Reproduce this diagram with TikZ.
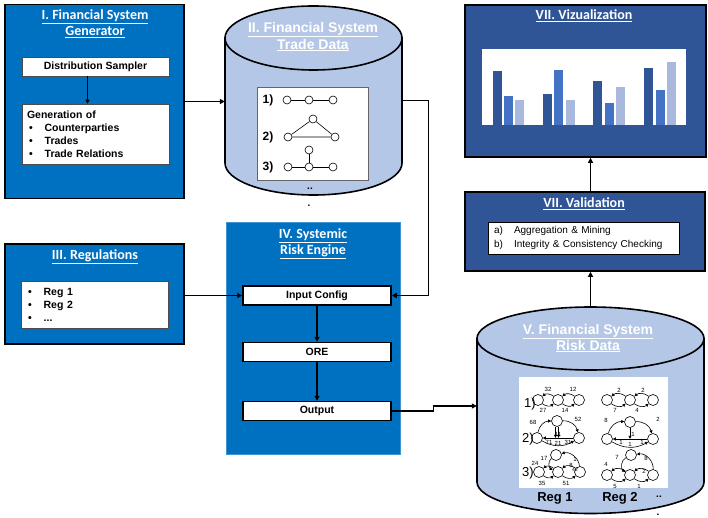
\documentclass[tikz,border=0pt]{standalone}
\usepackage{fontspec}
\setmainfont{Liberation Sans}
\newfontfamily\calfont{Carlito}
\usetikzlibrary{arrows.meta,positioning}

\definecolor{sysblue}{RGB}{0,112,192}
\definecolor{darkblue}{RGB}{47,85,151}
\definecolor{cylblue}{RGB}{180,199,231}
\definecolor{midblue}{RGB}{68,114,196}
\definecolor{paleblue}{RGB}{169,185,222}

\begin{document}
\begin{tikzpicture}[x=1pt,y=-1pt,
  blockbox/.style={draw=black,line width=1.6pt,inner sep=0pt},
  whitebox/.style={draw=black!70,fill=white,line width=0.6pt,inner sep=0pt,font=\bfseries\fontsize{10.5}{13}\selectfont},
  stepbox/.style={draw=black,fill=white,line width=1.5pt,minimum width=148pt,minimum height=19pt,inner sep=0pt,font=\bfseries\fontsize{10.5}{12}\selectfont},
  boxtitle/.style={text=white,align=center,inner sep=0pt,font=\calfont\bfseries\fontsize{14}{16}\selectfont},
  cyltitle/.style={text=white,align=center,inner sep=0pt,font=\bfseries\fontsize{14}{17}\selectfont},
  cyl/.style={draw=black,line width=1.6pt,fill=cylblue},
  link/.style={line width=1.3pt,-{Triangle[length=5pt,width=5pt]}},
  dot/.style={circle,draw=black,fill=white,line width=0.6pt,minimum size=8pt,inner sep=0pt},
  minidot/.style={circle,draw=black,line width=0.6pt,minimum size=11pt,inner sep=0pt},
  miniarc/.style={line width=0.6pt,-{Triangle[length=3pt,width=3pt]}},
  minilbl/.style={inner sep=0pt,font=\fontsize{6}{6}\selectfont},
  moredots/.style={anchor=base,inner sep=0pt,font=\bfseries\fontsize{10}{10}\selectfont},
  rownum/.style={inner sep=0pt,font=\bfseries\fontsize{12}{12}\selectfont}]
\useasboundingbox (0,0) rectangle (708,518);
%\draw[step=10,gray,very thin] (0,0) grid (708,518); %background grid

%---------------------------------------------------
\node[blockbox,fill=sysblue,minimum width=179pt,minimum height=194pt] (gen) at (94.5,101.5) {};
\node[boxtitle] (gentitle) at (95,24) {\underline{I. Financial System}\\\underline{Generator}};
\node[whitebox,minimum width=147pt,minimum height=19pt] (sampler) at (95.5,66.5) {Distribution Sampler};
\node[whitebox,minimum width=147pt,minimum height=60pt,text width=137pt,align=left] (genof) at (95.5,134)
  {Generation of\\
   \hspace*{2pt}\textbullet\hspace{12pt}Counterparties\\
   \hspace*{2pt}\textbullet\hspace{12pt}Trades\\
   \hspace*{2pt}\textbullet\hspace{12pt}Trade Relations};
\draw[line width=0.6pt,-{Triangle[length=4pt,width=4pt]}] ([xshift=-8pt]sampler.south) -- ([xshift=-8pt]genof.north);

%---------------------------------------------------
\node[blockbox,fill=sysblue,minimum width=179pt,minimum height=100pt] (regs) at (94.5,294) {};
\node[boxtitle] (regstitle) at (95,257) {\underline{III. Regulations}};
\node[whitebox,minimum width=147pt,minimum height=47pt,text width=137pt,align=left] (reglist) at (94.5,304.5)
  {\hspace*{2pt}\textbullet\hspace{12pt}Reg 1\\
   \hspace*{2pt}\textbullet\hspace{12pt}Reg 2\\
   \hspace*{2pt}\textbullet\hspace{12pt}...};

%---------------------------------------------------
\node[fill=sysblue,draw=sysblue!75!white,line width=1pt,minimum width=174pt,minimum height=231pt] (engine) at (313,338.5) {};
\node[boxtitle] (enginetitle) at (313,244) {\underline{IV. Systemic}\\\underline{Risk Engine}};
\node[stepbox] (input) at (317,295.5) {Input Config};
\node[stepbox] (ore) at (317,352) {ORE};
\node[stepbox] (output) at (317,411) {Output};
\draw[link] (input) -- (ore);
\draw[link] (ore) -- (output);

%---------------------------------------------------
\draw[cyl] (225,38) -- (225,163) arc[start angle=180,end angle=0,x radius=88.5,y radius=32] -- (402,38) -- cycle;
\draw[cyl] (313.5,38) ellipse[x radius=88.5,y radius=32];
\node[minimum width=177pt,minimum height=189pt,inner sep=0pt] (trade) at (313.5,100.5) {};
\node[cyltitle] (tradetitle) at (313,36.5) {\underline{II. Financial System}\\\underline{Trade Data}};
\node[draw=black!60,fill=white,line width=0.6pt,minimum width=111pt,minimum height=93pt] (tradelist) at (312.5,133.5) {};
\node[rownum] (t1) at (268,100) {1)};
\node[rownum] (t2) at (268,137) {2)};
\node[rownum] (t3) at (268,167) {3)};
\node[dot] (t1a) at (287,100) {};
\node[dot] (t1b) at (309,100) {};
\node[dot] (t1c) at (333,100) {};
\draw[line width=0.6pt] (t1a) -- (t1b) -- (t1c);
\node[dot] (t2a) at (288,137) {};
\node[dot] (t2b) at (313,119) {};
\node[dot] (t2c) at (335,137) {};
\draw[line width=0.6pt] (t2a) -- (t2b) -- (t2c) -- (t2a);
\node[dot] (t3a) at (288,167) {};
\node[dot] (t3b) at (309,167) {};
\node[dot] (t3c) at (333,167) {};
\node[dot] (t3d) at (309,150) {};
\draw[line width=0.6pt] (t3a) -- (t3b) -- (t3c);
\draw[line width=0.6pt] (t3d) -- (t3b);
\node[moredots] (tmore) at (310,190) {..};
\node[moredots] (tmore2) at (309,207) {.};

%---------------------------------------------------
\draw[cyl] (477,338.5) -- (477,482) arc[start angle=180,end angle=0,x radius=113.5,y radius=31.5] -- (704,338.5) -- cycle;
\draw[cyl] (590.5,338.5) ellipse[x radius=113.5,y radius=31.5];
\node[minimum width=227pt,minimum height=206pt,inner sep=0pt] (risk) at (590.5,410) {};
\node[cyltitle,font=\bfseries\fontsize{14}{16}\selectfont] (risktitle) at (588,338) {\underline{V. Financial System}\\\underline{Risk Data}};
\node[fill=white,minimum width=149pt,minimum height=111pt,inner sep=0pt] (riskgrid) at (593.5,432.5) {};
\node[inner sep=0pt,font=\bfseries\fontsize{13}{13}\selectfont] (reg1) at (555,498) {Reg 1};
\node[inner sep=0pt,font=\bfseries\fontsize{13}{13}\selectfont] (reg2) at (620,498) {Reg 2};
\node[moredots] (rmore) at (659,497) {..};
\node[moredots] (rmore2) at (658,515) {.};

% Reg 1 ----------------------------------------------
\node[rownum,font=\fontsize{13}{13}\selectfont] (r1) at (530,404) {1)};
\node[rownum,font=\fontsize{13}{13}\selectfont] (r2) at (528,439) {2)};
\node[rownum,font=\fontsize{13}{13}\selectfont] (r3) at (528,473) {3)};
\node[minidot] (p1a) at (538,400) {};
\node[minidot] (p1b) at (558,400) {};
\node[minidot] (p1c) at (579,400) {};
\draw[miniarc] (p1b) to[bend right=40] (p1a);
\draw[miniarc] (p1a) to[bend right=40] (p1b);
\draw[miniarc] (p1c) to[bend right=40] (p1b);
\draw[miniarc] (p1b) to[bend right=40] (p1c);
\node[minilbl] (l32) at (548,389) {32};
\node[minilbl] (l12) at (573,389) {12};
\node[minilbl] (l27) at (543,410) {27};
\node[minilbl] (l14) at (565,410) {14};

\node[minidot] (p2t) at (557,421) {};
\node[minidot] (p2l) at (537,438) {};
\node[minidot] (p2r) at (579,438) {};
\draw[miniarc] (p2l) to[bend left=40] (p2t);
\draw[miniarc] (p2t) to[bend left=40] (p2r);
\draw[miniarc] (p2r) -- (p2l);
\draw[miniarc] (p2l) to[bend right=30] (p2r);
\draw[miniarc] ([xshift=-1.5pt]p2t.south) -- ++(0,11);
\draw[miniarc] ([xshift=1.5pt]p2t.south) -- ++(0,11);
\node[minilbl] (l68) at (533,422) {68};
\node[minilbl] (l52) at (578,419) {52};
\node[minilbl] (l71) at (549,442) {71};
\node[minilbl] (l11) at (558,434) {11};
\node[minilbl] (l21) at (558,443) {21};
\node[minilbl] (l31) at (568,442) {31};

\node[minidot] (p3t) at (556,455) {};
\node[minidot] (p3a) at (539,472) {};
\node[minidot] (p3b) at (558,472) {};
\node[minidot] (p3c) at (580,472) {};
\draw[miniarc] (p3b) to[bend right=40] (p3a);
\draw[miniarc] (p3a) to[bend right=40] (p3b);
\draw[miniarc] (p3c) to[bend right=40] (p3b);
\draw[miniarc] (p3b) to[bend right=40] (p3c);
\draw[miniarc] (p3t) to[bend right=60] (p3b);
\draw[miniarc] (p3c) to[bend right=50] (p3t);
\node[minilbl] (l17) at (544,458) {17};
\node[minilbl] (l24) at (535,463) {24};
\node[minilbl] (l1) at (575,459) {1};
\node[minilbl] (l8) at (571,465) {8};
\node[minilbl,font=\fontsize{5}{5}\selectfont] (l42) at (575,470) {42};
\node[minilbl] (l35) at (542,483) {35};
\node[minilbl] (l51) at (566,483) {51};

% Reg 2 ----------------------------------------------
\node[minidot] (q1a) at (607,400) {};
\node[minidot] (q1b) at (630,400) {};
\node[minidot] (q1c) at (653,400) {};
\draw[miniarc] (q1b) to[bend right=40] (q1a);
\draw[miniarc] (q1a) to[bend right=40] (q1b);
\draw[miniarc] (q1c) to[bend right=40] (q1b);
\draw[miniarc] (q1b) to[bend right=40] (q1c);
\node[minilbl] (m2a) at (619,390) {2};
\node[minilbl] (m2b) at (643,390) {2};
\node[minilbl] (m7) at (615,410) {7};
\node[minilbl] (m4) at (637,410) {4};

\node[minidot] (q2t) at (630,422) {};
\node[minidot] (q2l) at (607,439) {};
\node[minidot] (q2r) at (653,439) {};
\draw[miniarc] (q2l) to[bend left=40] (q2t);
\draw[miniarc] (q2t) to[bend left=40] (q2r);
\draw[miniarc] (q2r) -- (q2l);
\draw[miniarc] (q2l) to[bend right=30] (q2r);
\draw[miniarc] (q2t.south) -- ++(0,11);
\node[minilbl] (m8) at (606,420) {8};
\node[minilbl] (m2c) at (658,419) {2};
\node[minilbl] (m1a) at (621,442) {1};
\node[minilbl] (m1b) at (633,434) {1};
\node[minilbl] (m1c) at (630,444) {1};
\node[minilbl] (m1d) at (642,442) {1};

\node[minidot] (q3t) at (631,455) {};
\node[minidot] (q3a) at (607,475) {};
\node[minidot] (q3b) at (630,475) {};
\node[minidot] (q3c) at (653,475) {};
\draw[miniarc] (q3b) to[bend right=40] (q3a);
\draw[miniarc] (q3a) to[bend right=40] (q3b);
\draw[miniarc] (q3c) to[bend right=40] (q3b);
\draw[miniarc] (q3b) to[bend right=40] (q3c);
\draw[miniarc] (q3t) to[bend right=60] (q3b);
\draw[miniarc] (q3c) to[bend right=50] (q3t);
\node[minilbl] (m7b) at (617,457) {7};
\node[minilbl] (m4b) at (606,464) {4};
\node[minilbl] (m8b) at (646,458) {8};
\node[minilbl] (m2d) at (644,471) {2};
\node[minilbl] (m5) at (615,486) {5};
\node[minilbl] (m1e) at (639,486) {1};

%---------------------------------------------------
\node[blockbox,fill=darkblue,minimum width=240pt,minimum height=79pt] (valid) at (585,231.5) {};
\node[boxtitle] (validtitle) at (584,204) {\underline{VII. Validation}};
\node[draw=black,fill=white,line width=0.6pt,minimum width=191pt,minimum height=32pt,inner sep=0pt,text width=179pt,align=left,font=\fontsize{10}{13.5}\selectfont] (checks) at (583.5,238)
  {\makebox[20pt][l]{a)}Aggregation \& Mining\\
   \makebox[20pt][l]{b)}Integrity \& Consistency Checking};

%---------------------------------------------------
\node[blockbox,fill=darkblue,minimum width=241pt,minimum height=152pt] (viz) at (585.5,81) {};
\node[boxtitle] (viztitle) at (584,16) {\underline{VII. Vizualization}};
\node[fill=white,minimum width=204pt,minimum height=76pt,inner sep=0pt] (chart) at (584,87) {};
\fill[darkblue] (493,125) rectangle (501.5,71);
\fill[midblue]  (504,125) rectangle (512.5,96);
\fill[paleblue] (515,125) rectangle (523.5,100);
\fill[darkblue] (543,125) rectangle (551.5,94);
\fill[midblue]  (554,125) rectangle (562.5,70);
\fill[paleblue] (566,125) rectangle (574.5,100);
\fill[darkblue] (593,125) rectangle (601.5,81);
\fill[midblue]  (605,125) rectangle (613.5,103);
\fill[paleblue] (616,125) rectangle (624.5,87);
\fill[darkblue] (644,125) rectangle (652.5,68);
\fill[midblue]  (656,125) rectangle (664.5,90);
\fill[paleblue] (667,125) rectangle (675.5,62);

%------------------------------------------------
\draw[link] (gen.east) -- (gen.east -| trade.west);
\draw[link] (trade.east) -- ++(26,0) |- (input.east);
\draw[link] (regs.east |- input.west) -- (input.west);
\draw[link] (output.east) -- ++(42,0) |- ([yshift=4pt]risk.west);
\draw[link] (risk.north) -- (risk.north |- valid.south);
\draw[link] (valid.north -| risk.north) -- (risk.north |- viz.south);
\end{tikzpicture}
\end{document}
